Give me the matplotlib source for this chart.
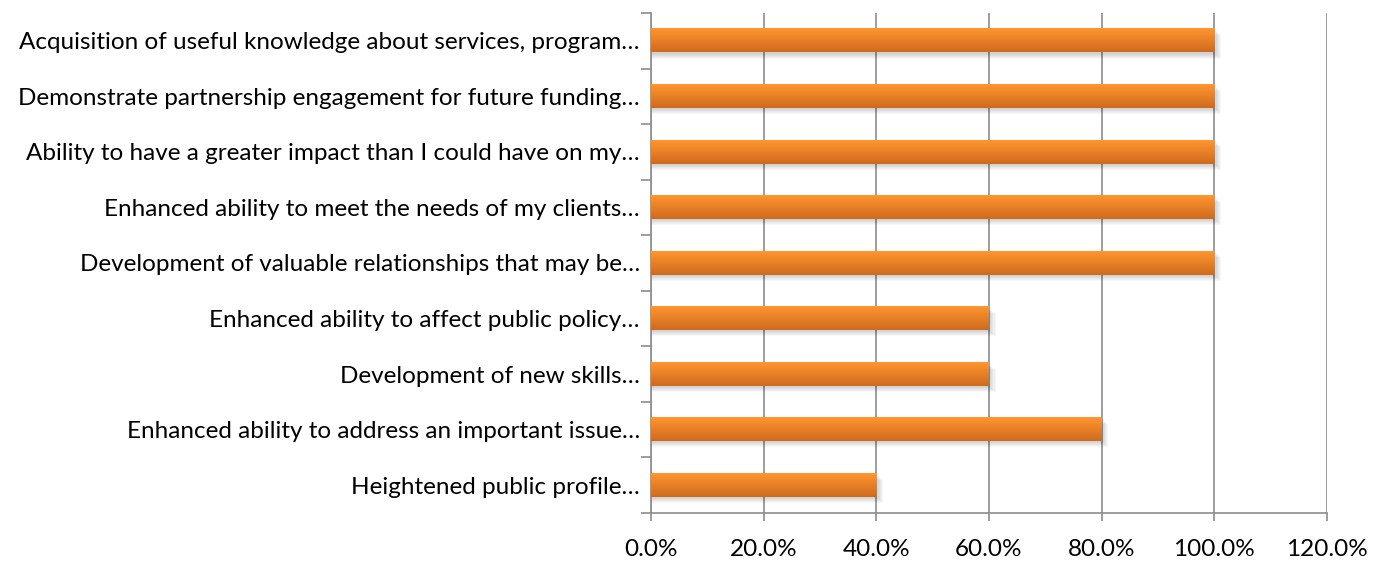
import numpy as np
import matplotlib.pyplot as plt
import matplotlib as mpl
from matplotlib.patches import Rectangle
from matplotlib.ticker import MultipleLocator, FuncFormatter

plt.rcParams['font.family'] = ['Lato', 'DejaVu Sans']
plt.rcParams.update({'font.size': 17.5})

categories = [
    'Acquisition of useful knowledge about services, program\u2026',
    'Demonstrate partnership engagement for future funding\u2026',
    'Ability to have a greater impact than I could have on my\u2026',
    'Enhanced ability to meet the needs of my clients\u2026',
    'Development of valuable relationships that may be\u2026',
    'Enhanced ability to affect public policy\u2026',
    'Development of new skills\u2026',
    'Enhanced ability to address an important issue\u2026',
    'Heightened public profile\u2026',
]
values = [1.0, 1.0, 1.0, 1.0, 1.0, 0.6, 0.6, 0.8, 0.4]

# top-to-bottom gradient for the bars
top_c = np.array(mpl.colors.to_rgb('#ff962f'))
bot_c = np.array(mpl.colors.to_rgb('#cf6a1f'))
t = np.linspace(0, 1, 64)[:, None]
grad = (top_c * (1 - t) + bot_c * t)[:, None, :]

fig = plt.figure(figsize=(13.86, 5.63), dpi=100)
ax = fig.add_axes([0.4697, 0.0888, 0.9574 - 0.4697, 0.977 - 0.0888])

n = len(categories)
ypos = np.arange(n)[::-1]
h = 0.42

bars = ax.barh(ypos, values, height=h, color='none', zorder=3)
for b in bars:
    x0, y0, w, hh = b.get_x(), b.get_y(), b.get_width(), b.get_height()
    # soft drop shadow
    for k in range(6):
        ax.add_patch(Rectangle((x0 + 0.002, y0 - 0.02 - k * 0.018), w + 0.002 * k, hh,
                               facecolor='black', alpha=0.03, lw=0, zorder=2))
    ax.imshow(grad, extent=[x0, x0 + w, y0, y0 + hh], aspect='auto',
              interpolation='bilinear', zorder=4)

ax.set_xlim(0, 1.2)
ax.set_ylim(-0.5, n - 0.5)
ax.set_yticks(ypos)
ax.set_yticklabels(categories)
ax.yaxis.set_minor_locator(mpl.ticker.FixedLocator(np.arange(-0.5, n, 1)))
ax.tick_params(axis='y', which='major', length=0, pad=8)
ax.tick_params(axis='y', which='minor', length=7, color='#8c8c8c', width=1.2)
ax.xaxis.set_major_locator(MultipleLocator(0.2))
ax.xaxis.set_major_formatter(FuncFormatter(lambda v, p: f'{v * 100:.1f}%'))
ax.tick_params(axis='x', length=6, color='#8c8c8c', width=1.2, pad=13)

ax.grid(axis='x', color='#8c8c8c', lw=1.2, zorder=0)
ax.set_axisbelow(True)
for s in ['top', 'right']:
    ax.spines[s].set_visible(False)
for s in ['left', 'bottom']:
    ax.spines[s].set_color('#8c8c8c')
    ax.spines[s].set_linewidth(1.2)

plt.savefig('out.png', dpi=100)
